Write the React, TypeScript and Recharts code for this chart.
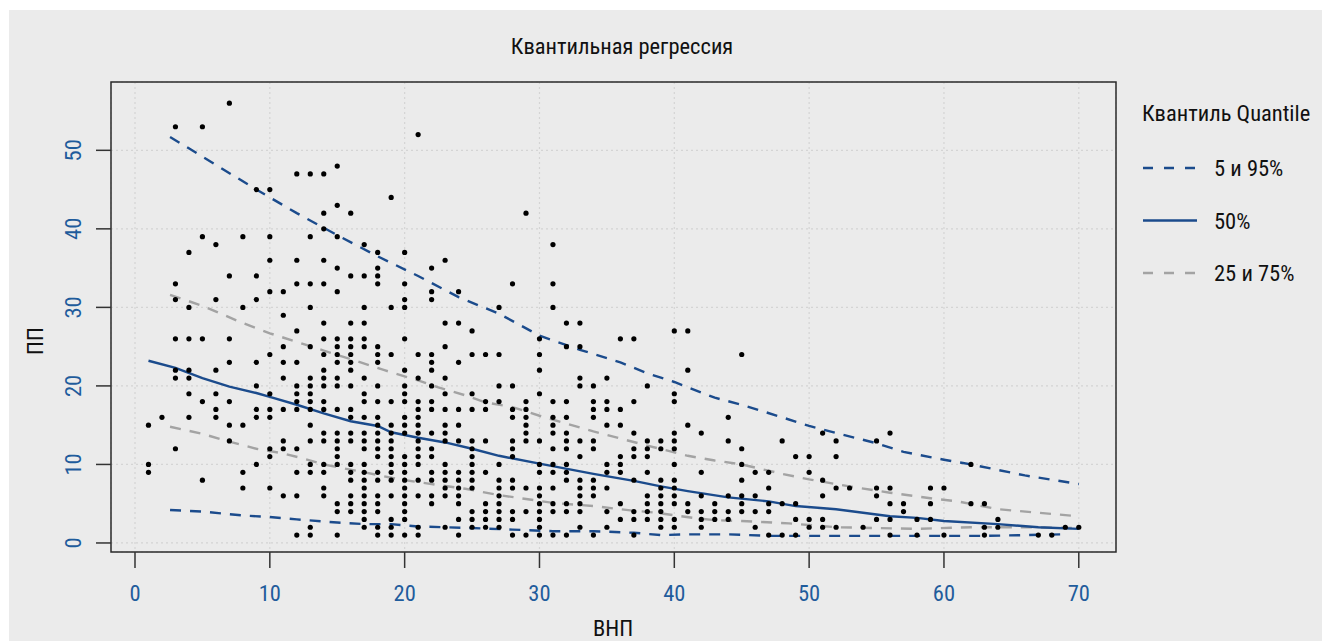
import React from 'react';
import {
  ComposedChart,
  Scatter,
  Line,
  XAxis,
  YAxis,
  CartesianGrid,
  ReferenceArea,
} from 'recharts';

// ВНП (x) columns and the ПП values observed at each of them
const gnp = [
  1, 2, 3, 4, 5, 6, 7, 8, 9, 10, 11, 12, 13, 14, 15, 16, 17, 18, 19, 20,
  21, 22, 23, 24, 25, 26, 27, 28, 29, 30, 31, 32, 33, 34, 35, 36, 37, 38, 39, 40,
  41, 42, 43, 44, 45, 46, 47, 48, 49, 50, 51, 52, 53, 54, 55, 56, 57, 58, 59, 60,
  62, 63, 64, 67, 68, 69, 70,
];

const pp = [
  [15, 10, 9],
  [16],
  [53, 33, 31, 26, 22, 21, 12],
  [37, 30, 26, 22, 21, 19, 16],
  [53, 39, 26, 18, 8],
  [38, 31, 22, 19, 17, 16],
  [56, 34, 26, 23, 18, 15, 13],
  [39, 30, 15, 9, 7],
  [45, 34, 31, 23, 20, 17, 16, 10],
  [45, 39, 36, 32, 24, 19, 17, 16, 12, 11, 7],
  [32, 29, 25, 23, 21, 17, 13, 12, 6],
  [47, 36, 33, 27, 23, 20, 19, 18, 17, 12, 9, 6, 1],
  [47, 39, 33, 30, 25, 21, 20, 19, 18, 17, 15, 13, 10, 9, 2, 1],
  [47, 42, 40, 36, 33, 28, 26, 24, 22, 21, 20, 18, 17, 14, 13, 10, 9, 7, 6],
  [48, 43, 39, 35, 32, 26, 25, 24, 23, 21, 20, 17, 14, 13, 12, 11, 10, 5, 4, 1],
  [42, 34, 28, 26, 25, 24, 23, 22, 20, 17, 16, 14, 13, 10, 9, 8, 6, 5, 4],
  [38, 34, 30, 28, 26, 25, 21, 19, 18, 16, 14, 13, 12, 10, 9, 8, 7, 6, 5, 4, 3, 2],
  [37, 35, 34, 33, 25, 24, 23, 20, 18, 16, 15, 14, 13, 12, 11, 9, 8, 6, 5, 4, 2, 1],
  [44, 30, 24, 18, 15, 14, 13, 12, 11, 10, 9, 8, 6, 3, 2, 1],
  [37, 33, 31, 30, 26, 22, 20, 19, 18, 16, 15, 14, 11, 10, 9, 8, 7, 6, 5, 4, 3, 1],
  [52, 24, 21, 18, 17, 16, 15, 14, 13, 12, 11, 10, 8, 6, 2, 1],
  [35, 32, 31, 24, 23, 22, 20, 18, 17, 14, 12, 11, 9, 8, 6, 5],
  [36, 28, 25, 21, 19, 17, 15, 14, 13, 10, 9, 8, 7, 6, 2],
  [32, 28, 23, 17, 15, 13, 9, 8, 7, 6, 5, 3, 1],
  [27, 24, 19, 17, 13, 12, 11, 10, 9, 8, 7, 4, 3, 2],
  [24, 18, 17, 13, 9, 5, 4, 3, 2],
  [30, 24, 20, 18, 10, 8, 7, 6, 5, 4, 3, 2],
  [33, 20, 17, 16, 13, 12, 11, 8, 7, 4, 3, 1],
  [42, 18, 17, 16, 15, 14, 13, 7, 4, 1],
  [26, 24, 22, 19, 13, 10, 9, 7, 6, 5, 4, 3, 2, 1],
  [38, 33, 30, 18, 16, 15, 14, 12, 10, 9, 7, 5, 4, 1],
  [28, 25, 18, 16, 14, 13, 12, 10, 9, 8, 5, 4, 1],
  [28, 25, 21, 20, 13, 11, 8, 7, 6, 5, 4, 2],
  [20, 18, 17, 16, 13, 12, 8, 7, 6, 1],
  [21, 18, 17, 15, 10, 9, 7, 4, 2],
  [26, 17, 15, 11, 10, 9, 5, 3],
  [26, 18, 14, 12, 11, 8, 4, 3, 1],
  [20, 13, 12, 11, 9, 6, 5, 4, 3],
  [13, 12, 8, 7, 6, 5, 4, 3, 2],
  [27, 19, 18, 14, 13, 12, 10, 8, 7, 6, 5, 3, 2],
  [27, 22, 15, 5, 4],
  [14, 9, 6, 4, 3, 2],
  [5, 4, 3],
  [16, 13, 6, 4, 3],
  [24, 12, 10, 8, 6, 5, 4],
  [9, 6, 4, 2],
  [9, 7, 5, 4, 1],
  [13, 5, 1],
  [11, 5, 3, 1],
  [11, 9, 3, 2],
  [14, 8, 6, 3, 2],
  [13, 11, 7, 2],
  [7],
  [2],
  [13, 7, 6, 3],
  [14, 7, 5, 3, 1],
  [5, 4],
  [3, 1],
  [7, 5, 3],
  [7, 1],
  [10, 5],
  [5, 2, 1],
  [3, 2],
  [1],
  [1],
  [2],
  [2],
];

// fitted quantile curves, [ВНП, ПП]
const q95 = [
  [2.6, 51.7], [5, 49.2], [9, 45], [12, 42], [15, 39.2], [18, 36.5], [21, 34], [24, 31.3],
  [27, 29.2], [30, 26.4], [33, 24.6], [36, 23], [38, 21.6], [40, 20.5], [43, 18.5], [45, 17.6],
  [48, 16], [50, 14.9], [52, 14], [55, 12.7], [57, 11.6], [60, 10.6], [62, 10], [66, 8.6], [70, 7.5],
];
const q75 = [
  [2.6, 31.6], [5, 30.2], [8, 28], [10, 26.7], [12, 25.6], [14, 24.5], [16, 23.4], [18.5, 22],
  [21, 20.7], [22.5, 19.8], [24.5, 18.8], [26, 17.9], [28, 17.3], [30, 16.2], [34, 14.2], [36, 13.3],
  [38, 12.4], [41, 11.1], [43, 10.5], [45, 10], [48, 8.8], [50, 8.1], [53, 7.2], [56, 6.4],
  [59, 5.7], [61, 5.3], [64, 4.3], [68, 3.7], [70, 3.4],
];
const q50 = [
  [1, 23.2], [3, 22.3], [5, 21], [7, 19.9], [9, 19.1], [10, 18.6], [12, 17.6], [14, 16.5],
  [16, 15.5], [18, 14.9], [19, 14.1], [21, 13.4], [23, 12.8], [25, 12], [27, 11.1], [30, 10.1],
  [34, 8.8], [37, 7.9], [39, 7.2], [41, 6.6], [44, 5.8], [47, 5.3], [49, 4.7], [52, 4.3],
  [56, 3.4], [58, 3.2], [60, 2.8], [64, 2.4], [67, 2], [70, 1.8],
];
const q25 = [
  [2.6, 14.8], [5, 13.9], [7, 12.9], [9, 12], [11, 11.4], [12.6, 10.7], [14, 10], [17, 9],
  [19.6, 8.1], [22, 7.5], [24.5, 6.9], [27, 6.1], [31, 5.1], [34, 4.7], [37, 4.1], [38.4, 3.9],
  [41.4, 3.2], [43, 2.9], [45, 2.8], [48.5, 2.5], [52, 2], [55, 1.9], [58, 1.8], [62, 2],
  [66, 2], [70, 1.9],
];
const q05 = [
  [2.6, 4.2], [5, 4], [8, 3.5], [10, 3.3], [12, 3], [15, 2.6], [17, 2.4], [19, 2.4],
  [21, 2.1], [23, 2], [25, 1.9], [28, 1.7], [31, 1.5], [34, 1.5], [37, 1.3], [39, 1],
  [41, 1.1], [44, 1.1], [47, 0.9], [52, 0.9], [58, 0.9], [63, 0.9], [66, 1], [68.7, 1.1],
];

const xTicks = [0, 10, 20, 30, 40, 50, 60, 70];
const yTicks = [0, 10, 20, 30, 40, 50];

const BLUE = '#1b4b8c';
const GREY = '#a3a3a3';
const TICK_BLUE = '#1f5c9c';
const FONT = "'Liberation Sans Narrow', 'Arial Narrow', 'Roboto Condensed', 'DejaVu Sans Condensed', 'Liberation Sans', sans-serif";
const FS = 22.5;

const legendItems = [
  { label: '5 и 95%', color: BLUE, dash: '10 11' },
  { label: '50%', color: BLUE, dash: undefined },
  { label: '25 и 75%', color: GREY, dash: '10 11' },
];

const W = 1313;
const H = 631;

const points = gnp.flatMap((x, i) => pp[i].map((y) => ({ x, y })));
const toXY = (arr: number[][]) => arr.map(([x, y]) => ({ x, y }));

const Dot = (props: any) => <circle cx={props.cx} cy={props.cy} r={2.6} fill="#000" />;

const XTick = (props: any) => (
  <text x={props.x} y={583} textAnchor="middle" dominantBaseline="central" fill={TICK_BLUE} fontSize={FS} fontFamily={FONT}>
    {props.payload.value}
  </text>
);

const YTick = (props: any) => (
  <text
    x={64}
    y={props.y}
    transform={`rotate(-90 64 ${props.y})`}
    textAnchor="middle"
    dominantBaseline="central"
    fill={TICK_BLUE}
    fontSize={FS}
    fontFamily={FONT}
  >
    {props.payload.value}
  </text>
);

export default function App() {
  return (
    <div style={{ position: 'fixed', left: 0, top: 0, width: 1322, height: 641, background: '#fff', overflow: 'hidden' }}>
      <div style={{ position: 'absolute', left: 9, top: 10, width: W, height: H, background: '#ebebeb' }}>
        <ComposedChart width={W} height={H} margin={{ top: 72, right: 206, bottom: 39, left: 42 }}>
          <CartesianGrid stroke="#d4d4d4" strokeDasharray="2 3" strokeWidth={1.2} />
          <XAxis
            type="number"
            dataKey="x"
            domain={[-1.78, 72.76]}
            ticks={xTicks}
            allowDataOverflow
            height={50}
            axisLine={false}
            tickSize={16}
            tickLine={{ stroke: '#333', strokeWidth: 1.5 }}
            tick={<XTick />}
          />
          <YAxis
            type="number"
            dataKey="y"
            domain={[-1.15, 58.7]}
            ticks={yTicks}
            allowDataOverflow
            width={60}
            axisLine={false}
            tickSize={15}
            tickLine={{ stroke: '#333', strokeWidth: 1.5 }}
            tick={<YTick />}
          />
          <Scatter data={points} fill="#000" shape={<Dot />} isAnimationActive={false} />
          <Line data={toXY(q95)} dataKey="y" type="linear" stroke={BLUE} strokeWidth={2.4} strokeDasharray="11 9" dot={false} isAnimationActive={false} />
          <Line data={toXY(q05)} dataKey="y" type="linear" stroke={BLUE} strokeWidth={2.4} strokeDasharray="11 9" dot={false} isAnimationActive={false} />
          <Line data={toXY(q75)} dataKey="y" type="linear" stroke={GREY} strokeWidth={2.4} strokeDasharray="11 9" dot={false} isAnimationActive={false} />
          <Line data={toXY(q25)} dataKey="y" type="linear" stroke={GREY} strokeWidth={2.4} strokeDasharray="11 9" dot={false} isAnimationActive={false} />
          <Line data={toXY(q50)} dataKey="y" type="linear" stroke={BLUE} strokeWidth={2.4} dot={false} isAnimationActive={false} />
          <ReferenceArea x1={-1.78} x2={72.76} y1={-1.15} y2={58.7} fill="none" stroke="#2b2b2b" strokeWidth={1.5} ifOverflow="visible" />
        </ComposedChart>
        <svg width={W} height={H} style={{ position: 'absolute', left: 0, top: 0, pointerEvents: 'none' }} fontFamily={FONT} fontSize={FS}>
          <text x={613} y={36} textAnchor="middle" dominantBaseline="central" fill="#111">Квантильная регрессия</text>
          <text x={604} y={618} textAnchor="middle" dominantBaseline="central" fill="#111">ВНП</text>
          <text x={26} y={331} transform="rotate(-90 26 331)" textAnchor="middle" dominantBaseline="central" fill="#111">ПП</text>
          <text x={1133} y={103} dominantBaseline="central" fill="#111">Квантиль Quantile</text>
          {legendItems.map((item, i) => {
            const y = 158 + i * 52.5;
            return (
              <g key={item.label}>
                <line x1={1134} x2={1188} y1={y} y2={y} stroke={item.color} strokeWidth={2.4} strokeDasharray={item.dash} />
                <text x={1205} y={y} dominantBaseline="central" fill="#111">{item.label}</text>
              </g>
            );
          })}
        </svg>
      </div>
    </div>
  );
}
